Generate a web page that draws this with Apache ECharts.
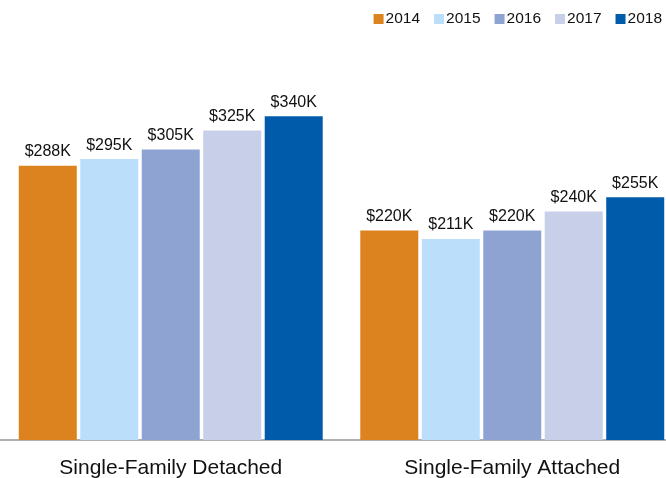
<!DOCTYPE html>
<html>
<head>
<meta charset="utf-8">
<script src="https://cdn.jsdelivr.net/npm/echarts@6/dist/echarts.min.js"></script>
<style>
  html, body { margin: 0; padding: 0; background: #fff; }
  #chart { width: 666px; height: 478px; }
</style>
</head>
<body>
<div id="chart"></div>
<script>
  const categories = ['Single-Family Detached', 'Single-Family Attached'];
  const years = ['2014', '2015', '2016', '2017', '2018'];
  // median price in $K, per year, for each category
  const v2014 = [288, 220];
  const v2015 = [295, 211];
  const v2016 = [305, 220];
  const v2017 = [325, 240];
  const v2018 = [340, 255];
  const colors = ['#DC831F', '#BBDFFB', '#8FA3D3', '#C8CFE8', '#005CAA'];

  const seriesValues = [v2014, v2015, v2016, v2017, v2018];
  const chart = echarts.init(document.getElementById('chart'));

  const option = {
    animation: false,
    textStyle: { fontFamily: 'Liberation Sans, Arial, sans-serif' },
    legend: {
      top: 11,
      right: 4,
      padding: 0,
      icon: 'rect',
      itemWidth: 10,
      itemHeight: 10,
      itemGap: 14,
      textStyle: { fontSize: 15.5, color: '#111', padding: [0, 0, 0, -3] },
      data: years
    },
    grid: { left: 0, top: 2, bottom: 38, width: 683, outerBoundsMode: 'none', containLabel: false },
    xAxis: {
      type: 'category',
      data: categories,
      axisTick: { show: false },
      axisLine: { lineStyle: { color: '#b0b0b0', width: 2 } },
      axisLabel: { fontSize: 21, color: '#111', margin: 18 }
    },
    yAxis: {
      type: 'value',
      min: 0,
      max: 460,
      show: false,
      splitLine: { show: false }
    },
    series: years.map(function (y, i) {
      return {
        name: y,
        type: 'bar',
        data: seriesValues[i],
        itemStyle: { color: colors[i] },
        barGap: '6%',
        barCategoryGap: '11%',
        label: {
          show: true,
          position: 'top',
          distance: 6,
          fontSize: 16,
          color: '#111',
          formatter: function (p) { return '$' + p.value + 'K'; }
        }
      };
    })
  };

  chart.setOption(option);
</script>
</body>
</html>
